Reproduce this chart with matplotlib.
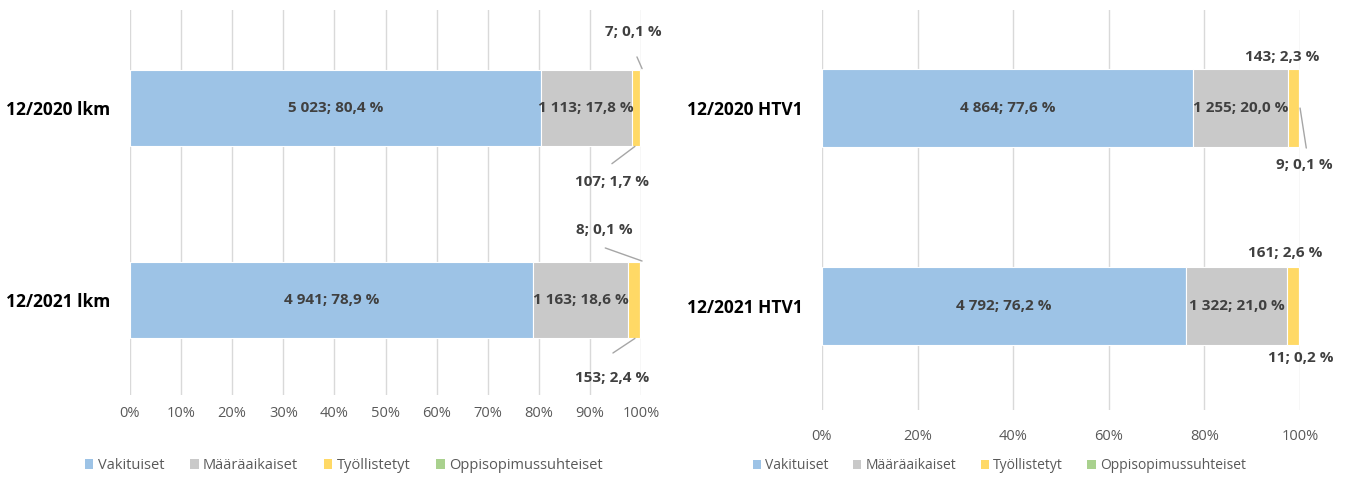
import matplotlib.pyplot as plt
from matplotlib.patches import Patch

# data
series = ['Vakituiset', 'Määräaikaiset', 'Työllistetyt', 'Oppisopimussuhteiset']
colors = ['#9DC3E6', '#C9C9C9', '#FFD966', '#A9D18E']

left_cats = ['12/2020 lkm', '12/2021 lkm']
left_vals = [[5023, 4941], [1113, 1163], [107, 153], [7, 8]]
left_pct = [[80.4, 78.9], [17.8, 18.6], [1.7, 2.4], [0.1, 0.1]]

right_cats = ['12/2020 HTV1', '12/2021 HTV1']
right_vals = [[4864, 4792], [1255, 1322], [143, 161], [9, 11]]
right_pct = [[77.6, 76.2], [20.0, 21.0], [2.3, 2.6], [0.1, 0.2]]

txt_col = '#404040'
plt.rcParams['font.family'] = ['Open Sans', 'DejaVu Sans']


def fmt(v, p):
    s = '{:,}'.format(v).replace(',', ' ')
    return '%s; %s %%' % (s, ('%.1f' % p).replace('.', ','))


def draw(ax, cats, vals, pct, height):
    totals = [sum(vals[s][i] for s in range(4)) for i in range(len(cats))]
    left = [0.0] * len(cats)
    for s in range(4):
        w = [vals[s][i] / totals[i] * 100 for i in range(len(cats))]
        ax.barh(range(len(cats)), w, left=left, height=height,
                color=colors[s], edgecolor='white', linewidth=0.8, zorder=2)
        if s < 2:
            for i in range(len(cats)):
                ax.text(left[i] + w[i] / 2, i, fmt(vals[s][i], pct[s][i]),
                        ha='center', va='center', fontsize=11,
                        fontweight='bold', color=txt_col, zorder=3)
        left = [left[i] + w[i] for i in range(len(cats))]
    ax.set_yticks(range(len(cats)))
    ax.set_yticklabels(cats, fontsize=12.5, fontweight='bold', color='black')
    ax.set_xlim(0, 100)
    ax.grid(axis='x', color='#D9D9D9', linewidth=1, zorder=0)
    for sp in ax.spines.values():
        sp.set_visible(False)
    ax.tick_params(axis='both', length=0)
    ax.tick_params(axis='x', labelsize=10.5, labelcolor='#595959', pad=8)
    ax.tick_params(axis='y', pad=14)


def small_label(ax, text, pos, line=None):
    ax.text(pos[0], pos[1], text, ha='center', va='center',
            fontsize=11, fontweight='bold', color=txt_col, clip_on=False)
    if line:
        ax.annotate('', xy=line[1], xytext=line[0], annotation_clip=False,
                    arrowprops=dict(arrowstyle='-', color='#A6A6A6',
                                    lw=1, shrinkA=0, shrinkB=0))


fig = plt.figure(figsize=(13.51, 4.8), dpi=100)
ax1 = fig.add_axes([0.0962, 0.177, 0.3783, 0.802])
ax2 = fig.add_axes([0.6084, 0.146, 0.3539, 0.833])

draw(ax1, left_cats, left_vals, left_pct, 0.40)
ax1.set_ylim(1.495, -0.51)
ax1.set_xticks(range(0, 101, 10))
ax1.set_xticklabels(['%d%%' % t for t in range(0, 101, 10)])

draw(ax2, right_cats, right_vals, right_pct, 0.39)
ax2.set_ylim(1.525, -0.495)
ax2.set_xticks(range(0, 101, 20))
ax2.set_xticklabels(['%d%%' % t for t in range(0, 101, 20)])
ax2.tick_params(axis='x', pad=14)

# small segment labels, left
small_label(ax1, fmt(left_vals[3][0], left_pct[3][0]), (98.4, -0.396),
            [(99.2, -0.266), (100.2, -0.205)])
small_label(ax1, fmt(left_vals[2][0], left_pct[2][0]), (94.3, 0.385),
            [(94.3, 0.29), (98.8, 0.2)])
small_label(ax1, fmt(left_vals[3][1], left_pct[3][1]), (92.9, 0.635),
            [(93.0, 0.729), (100.2, 0.797)])
small_label(ax1, fmt(left_vals[2][1], left_pct[2][1]), (94.4, 1.406),
            [(94.5, 1.276), (98.8, 1.2)])

# small segment labels, right
small_label(ax2, fmt(right_vals[2][0], right_pct[2][0]), (96.3, -0.258))
small_label(ax2, fmt(right_vals[3][0], right_pct[3][0]), (100.8, 0.288),
            [(100.0, 0.0), (101.3, 0.202)])
small_label(ax2, fmt(right_vals[2][1], right_pct[2][1]), (96.8, 0.732))
small_label(ax2, fmt(right_vals[3][1], right_pct[3][1]), (100.2, 1.263))

handles = [Patch(facecolor=c, edgecolor='none') for c in colors]
fig.legend(handles, series, loc='center left', bbox_to_anchor=(0.053, 0.03),
           ncol=4, frameon=False, fontsize=10.5, handlelength=0.6,
           handleheight=0.6, handletextpad=0.3, columnspacing=1.75,
           labelcolor='#595959')
fig.legend(handles, series, loc='center left', bbox_to_anchor=(0.548, 0.03),
           ncol=4, frameon=False, fontsize=10, handlelength=0.6,
           handleheight=0.6, handletextpad=0.3, columnspacing=1.75,
           labelcolor='#595959')

fig.savefig('out.png', dpi=100, facecolor='white')
